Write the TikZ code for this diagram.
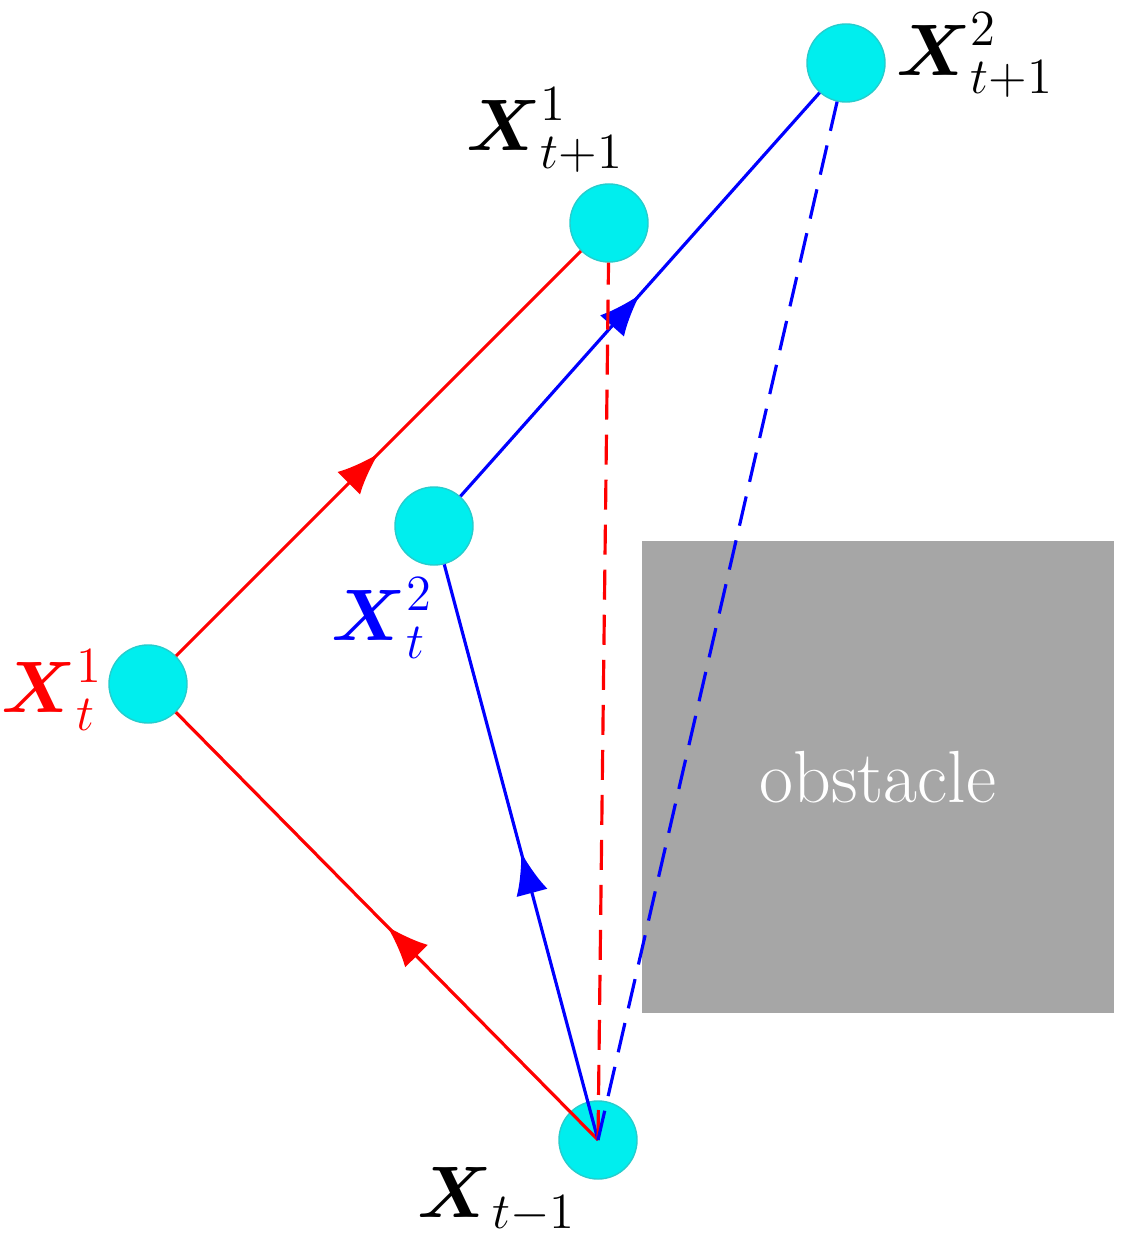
\documentclass[tikz,border=0pt]{standalone}
\usepackage{amsmath}
\usetikzlibrary{arrows.meta,decorations.markings}
\definecolor{nodecyan}{RGB}{0,238,238}
\definecolor{obsgray}{RGB}{166,166,166}
\tikzset{
  state/.style={circle, fill=nodecyan, draw=nodecyan!70!gray, minimum size=0.78cm, inner sep=0pt},
  midarrow/.style={postaction={decorate}, decoration={markings,
      mark=at position 0.5 with {\arrow{Latex[length=0.42cm,width=0.32cm]}}}},
  link/.style={line width=0.9pt},
  lab/.style={font=\fontsize{20}{24}\selectfont}
}
\begin{document}
\begin{tikzpicture}[x=0.01cm, y=-0.01cm]
  \useasboundingbox (0,0) rectangle (1137,1249);
  % obstacle
  \fill[obsgray] (642,541) rectangle (1114,1013);
  \node[white, font=\fontsize{21}{25}\selectfont] (obs) at (878,777) {obstacle};
  % states
  \node[state] (xprev) at (598,1140) {};
  \node[state] (xa) at (148,684) {};
  \node[state] (xb) at (434,526) {};
  \node[state] (xna) at (609,223) {};
  \node[state] (xnb) at (846,63) {};
  % labels
  \node[lab, red] (la) at (52,690) {$\boldsymbol{X}^1_t$};
  \node[lab, blue] (lb) at (382,618) {$\boldsymbol{X}^2_t$};
  \node[lab] (lprev) at (497,1200) {$\boldsymbol{X}_{t-1}$};
  \node[lab] (lna) at (545,130) {$\boldsymbol{X}^1_{t+1}$};
  \node[lab] (lnb) at (975,55) {$\boldsymbol{X}^2_{t+1}$};
  % paths
  \draw[link, red, midarrow] (xprev.center) -- (xa);
  \draw[link, red, midarrow] (xa) -- (xna);
  \draw[link, blue, midarrow] (xprev.center) -- (xb);
  \draw[link, blue, midarrow] (xb) -- (xnb);
  \draw[link, red, dashed, dash pattern=on 0.3cm off 0.15cm] (xprev.center) -- (xna);
  \draw[link, blue, dashed, dash pattern=on 0.3cm off 0.15cm] (xprev.center) -- (xnb);
\end{tikzpicture}
\end{document}
